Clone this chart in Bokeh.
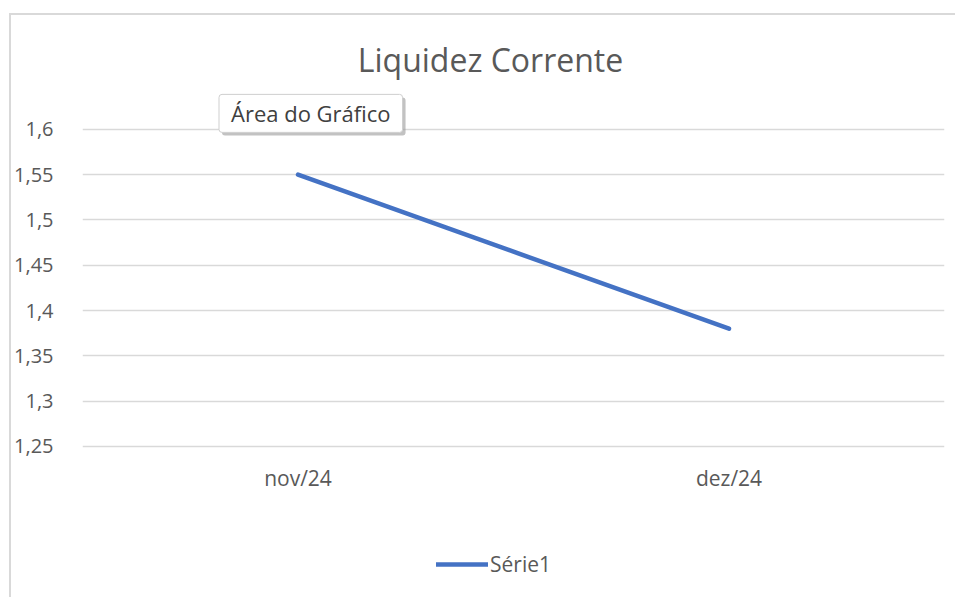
from bokeh.plotting import figure
from bokeh.models import FixedTicker, CustomJSTickFormatter, Label, Legend, LegendItem
from bokeh.embed import file_html
from bokeh.resources import INLINE

categories = ["nov/24", "dez/24"]
serie1 = [1.55, 1.38]
y_ticks = [1.25, 1.3, 1.35, 1.4, 1.45, 1.5, 1.55, 1.6]
title_text = "Liquidez Corrente"
series_name = "Série1"
tooltip_text = "Área do Gráfico"

FONT = "Open Sans"
TXT = "#595959"
BLUE = "#4472C4"

# the frame spans the whole height so that the texts drawn above and below the
# plotted values are not clipped; only the ticks in y_ticks get gridlines
p = figure(x_range=categories, y_range=(1.0811, 1.7257), width=946, height=584,
           output_backend="svg", toolbar_location=None,
           min_border=0, min_border_left=71, min_border_right=13)
p.margin = (13, 0, 0, 9)
p.styles = {"border-top": "2px solid #d9d9d9", "border-left": "2px solid #d9d9d9"}
p.outline_line_color = None
p.background_fill_color = "white"
p.border_fill_color = "white"

p.xaxis.visible = False
p.xgrid.grid_line_color = None
p.ygrid.grid_line_color = "#d9d9d9"
p.ygrid.grid_line_width = 1.5
p.yaxis.ticker = FixedTicker(ticks=y_ticks)
p.yaxis.formatter = CustomJSTickFormatter(code="""
let s = tick.toFixed(2);
if (s.endsWith('0')) s = s.slice(0, -1);
return s.replace('.', ',');
""")
ax = p.yaxis[0]
ax.axis_line_color = None
ax.major_tick_line_color = None
ax.minor_tick_line_color = None
ax.major_label_text_font = FONT
ax.major_label_text_font_size = "20px"
ax.major_label_text_color = TXT
ax.major_label_standoff = 23

# category labels under the lowest gridline
p.text(x=categories, y=[y_ticks[0]] * len(categories), text=categories,
       y_offset=32, text_align="center", text_baseline="middle",
       text_font={"value": FONT}, text_font_size="21px", text_color=TXT)

r = p.line(x=categories, y=serie1, line_width=4.5, line_color=BLUE, line_cap="round")

legend = Legend(items=[LegendItem(label=series_name, renderers=[r])],
                location=(354, 21), orientation="horizontal",
                border_line_color=None, background_fill_alpha=0,
                glyph_width=52, glyph_height=20, label_standoff=2,
                padding=0, margin=0, spacing=0,
                label_text_font=FONT, label_text_font_size="21px", label_text_color=TXT)
p.add_layout(legend)

p.add_layout(Label(x=1.0, y=1.6, x_offset=-23, y_offset=70, text=title_text,
                   text_align="center", text_baseline="middle",
                   text_font=FONT, text_font_size="32px", text_color=TXT))

# tooltip "Área do Gráfico" with shadow (x=0.5 is the centre of the first category)
p.add_layout(Label(x=0.5, y=1.6, x_offset=-76, y_offset=13, text=tooltip_text,
                   text_align="left", text_baseline="middle",
                   text_font=FONT, text_font_size="22px", text_color=(0, 0, 0, 0),
                   background_fill_color="#9a9a9a", background_fill_alpha=0.6,
                   padding=(12, 4), border_radius=3))
p.add_layout(Label(x=0.5, y=1.6, x_offset=-79, y_offset=16, text=tooltip_text,
                   text_align="left", text_baseline="middle",
                   text_font=FONT, text_font_size="22px", text_color="#404040",
                   background_fill_color="white", border_line_color="#cfcfcf",
                   padding=(12, 4), border_radius=3))

open("out.html", "w").write(file_html(p, INLINE))
